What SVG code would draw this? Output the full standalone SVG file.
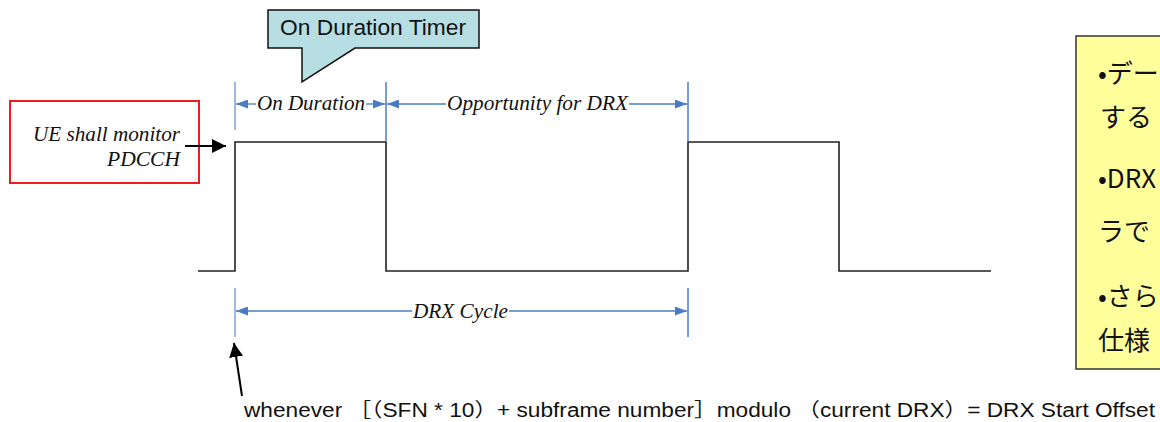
<svg xmlns="http://www.w3.org/2000/svg" width="1160" height="422" viewBox="0 0 1160 422">
<style>
.it{font-family:"Liberation Serif","Times New Roman",serif;font-style:italic;font-size:20px;fill:#111}
.sans{font-family:"Liberation Sans",Arial,"Noto Sans CJK JP",sans-serif;fill:#111}
.jp{font-family:"Noto Sans CJK JP","Noto Sans",sans-serif;font-size:26px;fill:#111}
.dim{stroke:#4a7cc4;stroke-width:1.3;fill:none}
.ext{stroke:#4a7cc4;stroke-width:1.5}
.extl{stroke:#9db9e2;stroke-width:2}
.wave{stroke:#222;stroke-width:1.6;fill:none}
</style>
<defs>
<marker id="ba" markerUnits="userSpaceOnUse" markerWidth="12" markerHeight="9" refX="12" refY="4.5" orient="auto">
<path d="M0,0 L12,4.5 L0,9 z" fill="#4a7cc4"/>
</marker>
<marker id="ka" markerUnits="userSpaceOnUse" markerWidth="14" markerHeight="14" refX="14" refY="7" orient="auto">
<path d="M0,0 L14,7 L0,14 z" fill="#000"/>
</marker>
</defs>
<rect width="1160" height="422" fill="#fff"/>

<g id="waveform">
<path class="wave" d="M198,271 H235 V142 H386 V271 H688 V142 H839 V271 H991"/>
</g>

<g id="callout">
<path d="M268,10 H479 V48 H355 L302,82 V48 H268 Z" fill="#b7dee2" stroke="#111" stroke-width="1.5"/>
<text class="sans" x="280" y="35" font-size="22" textLength="186" lengthAdjust="spacingAndGlyphs">On Duration Timer</text>
</g>

<g id="monitor-box">
<rect x="10" y="101" width="189" height="82" fill="#fff" stroke="#ee1c1c" stroke-width="2"/>
<text class="it" x="33" y="141" textLength="147" lengthAdjust="spacingAndGlyphs">UE shall monitor</text>
<text class="it" x="107" y="166" textLength="73" lengthAdjust="spacingAndGlyphs">PDCCH</text>
</g>

<g id="note-box">
<rect x="1076" y="36" width="120" height="333" fill="#ffff9c" stroke="#333" stroke-width="1.5"/>
<text class="jp" x="1098" y="83">•デー</text>
<text class="jp" x="1100" y="127">する</text>
<text class="jp" x="1098" y="188">•DRX</text>
<text class="jp" x="1098" y="241">ラで</text>
<text class="jp" x="1098" y="306">•さら</text>
<text class="jp" x="1098" y="350">仕様</text>
</g>

<g id="labels">
<text class="it" x="257" y="110" textLength="108" lengthAdjust="spacingAndGlyphs">On Duration</text>
<text class="it" x="447" y="110" textLength="181" lengthAdjust="spacingAndGlyphs">Opportunity for DRX</text>
<text class="it" x="413" y="318" textLength="95" lengthAdjust="spacingAndGlyphs">DRX Cycle</text>
<text class="sans" x="244" y="417" font-size="19.5" textLength="911" lengthAdjust="spacingAndGlyphs">whenever ［（SFN * 10）+ subframe number］modulo （current DRX）= DRX Start Offset</text>
</g>

<g id="connectors">
<line class="extl" x1="235" y1="82" x2="235" y2="130"/>
<line class="ext" x1="386" y1="82" x2="386" y2="141"/>
<line class="ext" x1="688" y1="82" x2="688" y2="141"/>
<line class="dim" x1="256" y1="104" x2="236" y2="104" marker-end="url(#ba)"/>
<line class="dim" x1="366" y1="104" x2="385" y2="104" marker-end="url(#ba)"/>
<line class="dim" x1="446" y1="104" x2="387" y2="104" marker-end="url(#ba)"/>
<line class="dim" x1="629" y1="104" x2="687" y2="104" marker-end="url(#ba)"/>
<line class="extl" x1="235" y1="288" x2="235" y2="337"/>
<line class="ext" x1="688" y1="288" x2="688" y2="337"/>
<line class="dim" x1="412" y1="311" x2="236" y2="311" marker-end="url(#ba)"/>
<line class="dim" x1="509" y1="311" x2="687" y2="311" marker-end="url(#ba)"/>
<line stroke="#000" stroke-width="2" x1="185" y1="146" x2="226" y2="146" marker-end="url(#ka)"/>
<line stroke="#000" stroke-width="2" x1="242" y1="396" x2="234" y2="343" marker-end="url(#ka)"/>
</g>
</svg>
